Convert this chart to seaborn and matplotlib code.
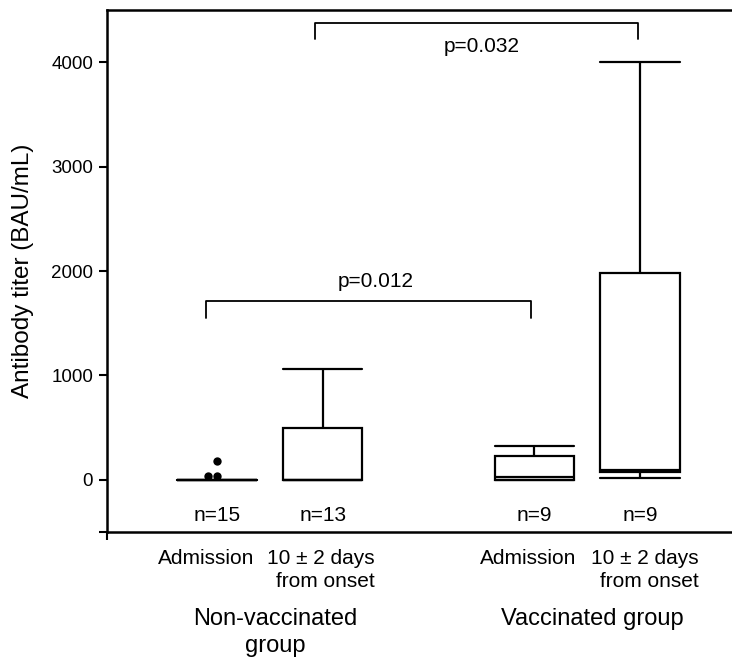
import numpy as np
import pandas as pd
import matplotlib
matplotlib.use("Agg")
import matplotlib.pyplot as plt
import matplotlib.transforms as mtransforms
import seaborn as sns

# values (BAU/mL)
nonvac_admission = [0, 0, 0, 0, 0, 0, 0, 0, 0, 0, 0, 0, 40, 40, 180]
nonvac_day10 = [0, 0, 0, 0, 0, 0, 0, 120, 310, 500, 640, 820, 1060]
vac_admission = [0, 0, 0, 10, 30, 110, 225, 280, 325]
vac_day10 = [22, 45, 70, 85, 96, 640, 1980, 2900, 4000]

positions = [0, 1, 3, 4]
tick_labels = ["Admission", "10 ± 2 days\nfrom onset", "Admission", "10 ± 2 days\nfrom onset"]
group_names = ["Non-vaccinated\ngroup", "Vaccinated group"]
n_labels = ["n=15", "n=13", "n=9", "n=9"]
p_values = ["p=0.012", "p=0.032"]

groups = [nonvac_admission, nonvac_day10, vac_admission, vac_day10]
df = pd.DataFrame({
    "pos": np.concatenate([[p] * len(g) for p, g in zip(positions, groups)]),
    "titer": np.concatenate(groups),
})

sns.set_style("ticks")
plt.rcParams["font.family"] = ["Liberation Sans", "DejaVu Sans"]
plt.rcParams["text.color"] = "black"
plt.rcParams["xtick.color"] = "black"
plt.rcParams["ytick.color"] = "black"
plt.rcParams["axes.labelcolor"] = "black"

fig = plt.figure(figsize=(7.32, 6.66), dpi=100)
ax = fig.add_axes([107 / 732, 134 / 666, 625 / 732, 522 / 666])

sns.boxplot(data=df, x="pos", y="titer", native_scale=True, width=0.75,
            color="white", linecolor="black", linewidth=1.6, showfliers=False,
            capwidths=0.75, ax=ax)

# outliers (1.5 IQR rule) drawn as a small swarm like the original
out_x, out_y = [], []
for p, g in zip(positions, groups):
    q1, q3 = np.percentile(g, [25, 75])
    iqr = q3 - q1
    for v in g:
        if v > q3 + 1.5 * iqr or v < q1 - 1.5 * iqr:
            out_x.append(p)
            out_y.append(v)
sns.swarmplot(x=out_x, y=out_y, native_scale=True, color="black", size=6, ax=ax)

ax.set_xlim(-1.04, 4.87)
ax.set_ylim(-500, 4500)
ax.set_yticks([-500, 0, 1000, 2000, 3000, 4000])
ax.set_yticklabels(["", "0", "1000", "2000", "3000", "4000"], fontsize=13.5)
ax.set_xticks(positions)
ax.set_xticklabels(tick_labels, fontsize=15, multialignment="right", linespacing=1.3)
ax.tick_params(axis="x", length=0, pad=12)
ax.tick_params(axis="y", length=6, width=1.5, direction="out", pad=4)
ax.set_xticks([-1.04], minor=True)
ax.tick_params(axis="x", which="minor", length=6, width=1.5)
ax.set_xlabel("")
ax.set_ylabel("Antibody titer (BAU/mL)", fontsize=17.5, labelpad=12)

# nudge the category labels the way they sit in the original
shifts = [-11, -2, -6, 5]
for lab, dx in zip(ax.get_xticklabels(), shifts):
    lab.set_transform(lab.get_transform() + mtransforms.ScaledTranslation(dx / 100, 0, fig.dpi_scale_trans))

for side in ["left", "top", "bottom"]:
    ax.spines[side].set_linewidth(1.8)
    ax.spines[side].set_color("black")
ax.spines["right"].set_visible(False)

for p, lab in zip(positions, n_labels):
    ax.text(p, -340, lab, ha="center", va="center", fontsize=15)

# significance brackets
ax.plot([-0.1, -0.1, 2.97, 2.97], [1553, 1710, 1710, 1553], color="black", lw=1.3)
ax.text(1.5, 1895, p_values[0], ha="center", va="center", fontsize=15)
ax.plot([0.93, 0.93, 3.98, 3.98], [4224, 4377, 4377, 4224], color="black", lw=1.3)
ax.text(2.5, 4153, p_values[1], ha="center", va="center", fontsize=15)

trans = mtransforms.blended_transform_factory(ax.transData, fig.transFigure)
ax.text(0.55, 1 - 608 / 666, group_names[0], ha="center", va="top",
        fontsize=17, linespacing=1.3, transform=trans)
ax.text(3.55, 1 - 608 / 666, group_names[1], ha="center", va="top",
        fontsize=17, linespacing=1.3, transform=trans)

fig.savefig("out.png", dpi=100)
